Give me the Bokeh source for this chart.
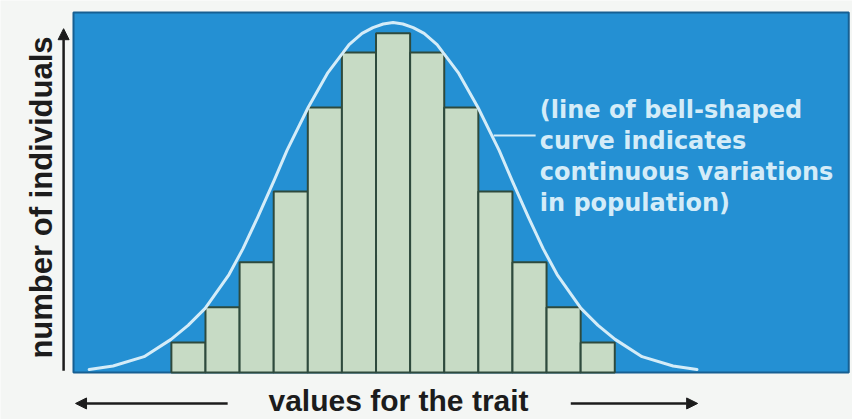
from bokeh.plotting import figure
from bokeh.models import Range1d, Arrow, NormalHead, ColumnDataSource
from bokeh.core.properties import value
from bokeh.embed import file_html
from bokeh.resources import INLINE
import math

# Trait classes (bar index) and number of individuals in each class
classes = [1, 2, 3, 4, 5, 6, 7, 8, 9, 10, 11, 12, 13]
counts = [8.3, 18.1, 30.6, 50.3, 73.6, 88.9, 94.2, 88.9, 73.6, 50.3, 30.6, 18.1, 8.3]

# Bell-shaped curve traced over the histogram
curve_x = [-1.91, -1.21, -0.30, 0.49, 0.99, 1.49, 2.19, 2.60, 3.04, 3.51, 3.89, 4.51,
           5.09, 5.71, 6.09, 6.41, 6.71, 7.00, 7.29, 7.59, 7.91, 8.29, 8.91, 9.49,
           10.11, 10.49, 10.96, 11.40, 11.81, 12.51, 13.01, 13.51, 14.30, 15.21, 15.91]
curve_y = [0.8, 1.8, 4.4, 9.2, 13.1, 17.8, 27.2, 34.4, 43.3, 53.3, 61.7, 73.6,
           83.3, 91.1, 94.2, 95.8, 96.8, 97.2, 96.8, 95.8, 94.2, 91.1, 83.3, 73.6,
           61.7, 53.3, 43.3, 34.4, 27.2, 17.8, 13.1, 9.2, 4.4, 1.8, 0.8]

note_lines = ["(line of bell-shaped", "curve indicates",
              "continuous variations", "in population)"]
x_title = "values for the trait"
y_title = "number of individuals"

# Layout (data units: one bar = 1 along x, panel height = 100 along y)
PANEL_LEFT, PANEL_RIGHT, PANEL_TOP = -2.37, 20.36, 100.0
NOTE_X, NOTE_Y, NOTE_STEP = 11.30, 72.8, 8.61
LEADER = (9.95, 11.18, 65.8)

BLUE = "#2490d3"
PALE = "#d4ecf8"
INK = "#1c1c1c"

p = figure(width=852, height=419, output_backend="svg", toolbar_location=None,
           x_range=Range1d(-4.51, 20.47), y_range=Range1d(-13.06, 103.33),
           min_border=0, background_fill_color="#f4f6f4",
           border_fill_color="#f4f6f4")
p.xaxis.visible = False
p.yaxis.visible = False
p.grid.visible = False
p.outline_line_color = None

# blue panel
p.quad(left=[PANEL_LEFT], right=[PANEL_RIGHT], bottom=[0], top=[PANEL_TOP],
       fill_color=BLUE, line_color="#175f92", line_width=2)

# histogram bars
src = ColumnDataSource(dict(x=classes, top=counts))
p.vbar(x="x", top="top", width=1.0, bottom=0, source=src,
       fill_color="#c7dbc5", line_color="#2e4a3d", line_width=2)

# bell curve
p.line(curve_x, curve_y, line_color=PALE, line_width=3,
       line_join="round", line_cap="round")

# leader from the curve to the note
p.segment(x0=[LEADER[0]], x1=[LEADER[1]], y0=[LEADER[2]], y1=[LEADER[2]],
          line_color=PALE, line_width=2)

p.text(x=[NOTE_X] * len(note_lines),
       y=[NOTE_Y - i * NOTE_STEP for i in range(len(note_lines))],
       text=note_lines, text_color=PALE, text_font=value("DejaVu Sans"),
       text_font_style="bold", text_font_size="24px",
       text_align="left", text_baseline="alphabetic")

# axis titles
p.text(x=[7.16], y=[-7.9], text=[x_title], text_color=INK,
       text_font=value("Liberation Sans"), text_font_style="bold",
       text_font_size="30px", text_align="center", text_baseline="middle")
p.text(x=[-3.3], y=[48.6], text=[y_title], text_color=INK,
       text_font=value("Liberation Sans"), text_font_style="bold",
       text_font_size="31px", text_align="center", text_baseline="middle",
       angle=math.pi / 2)

# axis arrows
def arrow(x0, y0, x1, y1):
    p.add_layout(Arrow(end=NormalHead(size=11, fill_color=INK, line_color=INK),
                       x_start=x0, y_start=y0, x_end=x1, y_end=y1,
                       line_color=INK, line_width=2.5))

arrow(-2.66, 0.5, -2.66, 95.5)
arrow(2.15, -8.6, -2.31, -8.6)
arrow(12.21, -8.6, 15.93, -8.6)

open("out.html", "w").write(file_html(p, INLINE))
